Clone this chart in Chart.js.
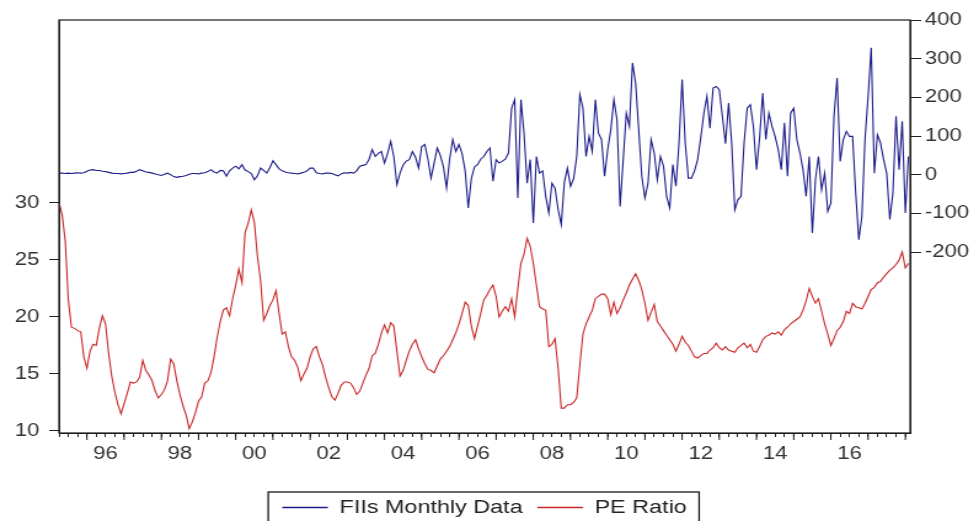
<!DOCTYPE html>
<html><head><meta charset="utf-8">
<script src="https://cdn.jsdelivr.net/npm/chart.js@4.4.1/dist/chart.umd.min.js"></script>
<style>
html,body{margin:0;padding:0;background:#fff;overflow:hidden;}
#wrap{position:absolute;left:0;top:0;width:796px;height:521px;transform:scaleX(1.2299);transform-origin:0 0;}
</style></head><body>
<div id="wrap"><canvas id="c"></canvas></div>
<script>
// first observation: 1995M04, monthly
const startYear = 1995, startMonth = 4;

const fiis = [
  4,4,3,4,3,4,5,4,5,
  9,12,13,11,11,9,8,6,4,3,3,2,
  3,4,6,6,9,13,10,7,6,4,2,0,
  -2,1,4,0,-5,-7,-5,-4,-2,1,3,3,
  2,4,5,8,13,7,4,11,10,-4,10,17,
  22,15,26,12,8,3,-13,-3,17,11,4,18,
  36,26,15,10,7,5,4,3,2,4,6,10,
  17,17,5,3,2,4,4,3,0,-3,2,5,
  4,6,4,10,22,24,26,40,65,47,55,60,
  30,55,86,47,-26,4,25,35,39,60,45,17,
  73,78,40,-9,30,69,50,20,-34,40,91,60,
  78,55,10,-86,-10,20,26,40,47,60,69,-17,
  39,30,35,40,56,172,194,-60,194,108,-22,39,
  -125,47,4,10,-56,-99,-22,-35,-90,-129,-20,17,
  -30,-10,47,207,172,47,99,60,194,108,91,-4,
  65,116,194,142,-82,39,159,125,289,237,116,-4,
  -60,-22,91,56,-13,47,22,-56,-86,26,-30,82,
  246,82,-9,-9,10,39,95,159,203,120,224,228,
  220,151,80,185,82,-91,-65,-56,82,172,181,125,
  13,95,211,91,159,125,99,65,13,134,-4,159,
  172,91,56,13,-56,47,-151,-13,47,-39,4,-95,
  -73,151,250,34,91,112,99,99,-47,-168,-108,91,
  203,328,4,103,82,39,4,-116,-47,151,13,138,
  -99,47
];

const pe = [
  30.0,29.0,26.7,21.5,19.1,19.0,18.8,18.7,16.5,
  15.5,17.0,17.6,17.5,19.0,20.1,19.4,16.8,14.8,13.4,12.3,11.5,
  12.4,13.3,14.3,14.2,14.3,14.7,16.2,15.3,14.9,14.4,13.5,12.9,
  13.2,13.6,14.4,16.3,15.9,14.4,13.2,12.2,11.4,10.2,10.8,11.6,
  12.6,13.0,14.2,14.4,15.1,16.5,18.2,19.6,20.6,20.8,20.1,21.6,
  22.8,24.2,23.0,27.4,28.2,29.4,28.3,25.3,23.2,19.7,20.3,21.0,
  21.5,22.3,20.3,18.5,18.7,17.4,16.5,16.2,15.6,14.4,15.0,15.5,
  16.5,17.2,17.4,16.5,15.8,14.7,13.8,13.0,12.7,13.3,14.0,14.3,
  14.3,14.2,13.8,13.2,13.5,14.2,14.9,15.5,16.6,16.8,17.6,18.6,
  19.3,18.6,19.5,19.2,17.0,14.8,15.3,16.2,17.0,17.6,18.0,17.2,
  16.5,15.9,15.4,15.3,15.1,15.7,16.3,16.6,17.0,17.4,18.0,18.6,
  19.4,20.3,21.3,21.0,19.2,18.1,19.2,20.3,21.5,21.9,22.4,22.8,
  21.8,20.0,20.5,20.9,20.5,21.6,20.0,22.5,24.7,25.5,26.9,26.2,
  24.7,22.8,20.9,20.7,20.6,17.4,17.6,18.1,15.5,12.0,12.0,12.3,
  12.3,12.5,12.9,15.8,18.5,19.4,20.0,20.6,21.6,21.8,22.0,22.0,
  21.6,20.2,21.3,20.3,20.8,21.5,22.1,22.8,23.3,23.8,23.2,22.4,
  21.2,19.7,20.4,21.1,19.6,19.2,18.8,18.4,18.0,17.6,17.0,17.6,
  18.3,17.8,17.5,17.0,16.5,16.4,16.6,16.8,16.8,17.1,17.3,17.7,
  17.3,17.1,17.4,17.1,17.0,16.9,17.3,17.5,17.7,17.3,17.6,17.0,
  16.9,17.4,18.0,18.3,18.4,18.6,18.5,18.7,18.4,18.9,19.1,19.4,
  19.6,19.8,20.0,20.6,21.4,22.5,21.8,21.2,21.6,20.5,19.4,18.5,
  17.5,18.1,18.8,19.1,19.6,20.5,20.3,21.2,20.9,20.8,20.7,21.2,
  21.8,22.4,22.6,23.0,23.1,23.5,23.8,24.1,24.3,24.6,25.0,25.7,
  24.3,24.7
];

const xLabelYears = [1996,1998,2000,2002,2004,2006,2008,2010,2012,2014,2016];
const xTickLabels = ['96','98','00','02','04','06','08','10','12','14','16'];
const peTicks = [10,15,20,25,30];
const fiiTicks = [-200,-100,0,100,200,300,400];
const seriesNames = ['FIIs Monthly Data','PE Ratio'];

const tOf = i => startYear + (startMonth - 1 + i) / 12;
const X_MIN = tOf(0), X_MAX = 2018.13;

Chart.defaults.font.family = '"Liberation Sans", Arial, sans-serif';

const framePlugin = {
  id: 'frame',
  afterDraw(chart) {
    const {ctx, chartArea: a, scales: {x}} = chart;
    ctx.save();
    ctx.strokeStyle = '#1a1a1a';
    ctx.lineWidth = 1.2;
    ctx.strokeRect(a.left, a.top, a.right - a.left, a.bottom - a.top);
    ctx.lineWidth = 1;
    for (let yr = Math.ceil(x.min); yr <= x.max; yr++) {
      const px = x.getPixelForValue(yr);
      ctx.beginPath(); ctx.moveTo(px, a.bottom); ctx.lineTo(px, a.bottom + 7); ctx.stroke();
    }
    const lg = chart.legend;
    const hb = lg.legendHitBoxes;
    if (hb && hb.length) {
      const l = hb[0].left - 11.5;
      const last = hb[hb.length - 1];
      const r = last.left + last.width + 10;
      const t = lg.top + 6;
      ctx.lineWidth = 1.3;
      ctx.strokeRect(l, t, r - l, 60);
    }
    ctx.restore();
  }
};

new Chart(document.getElementById('c'), {
  type: 'line',
  data: {
    datasets: [
      { label: seriesNames[0], yAxisID: 'y2',
        data: fiis.map((v, i) => ({x: tOf(i), y: v})),
        borderColor: '#1c1c88', borderWidth: 1.1, pointRadius: 0, tension: 0, fill: false },
      { label: seriesNames[1], yAxisID: 'y',
        data: pe.map((v, i) => ({x: tOf(i), y: v})),
        borderColor: '#c82828', borderWidth: 1.1, pointRadius: 0, tension: 0, fill: false }
    ]
  },
  options: {
    responsive: true, maintainAspectRatio: false, animation: false,
    layout: { padding: { top: 20, left: 0, right: 0, bottom: -6 } },
    plugins: {
      tooltip: { enabled: false },
      legend: {
        position: 'bottom', fullSize: false,
        labels: {
          usePointStyle: true, pointStyle: 'line', pointStyleWidth: 37, padding: 12,
          color: '#222', font: { size: 19 },
          generateLabels: chart => Chart.defaults.plugins.legend.labels.generateLabels(chart)
            .map(l => Object.assign(l, { lineWidth: 1.4 }))
        }
      }
    },
    scales: {
      x: {
        type: 'linear', position: 'bottom', min: X_MIN, max: X_MAX,
        afterBuildTicks: s => {
          const t = [];
          for (let v = X_MIN; v <= X_MAX + 1e-9; v += 0.25) t.push({value: Math.round(v * 4) / 4});
          s.ticks = t;
        },
        afterFit: s => { s.height = 53; },
        grid: { drawOnChartArea: false, tickLength: 4, color: '#222', tickColor: '#222' },
        border: { color: '#222' },
        ticks: {
          autoSkip: false, maxRotation: 0, minRotation: 0, padding: 6, color: '#333', font: { size: 18 },
          callback: v => {
            const k = xLabelYears.findIndex(y => Math.abs(y + 0.5 - v) < 1e-6);
            return k >= 0 ? xTickLabels[k] : '';
          }
        }
      },
      y: {
        type: 'linear', position: 'left', min: 9.82, max: 46.05,
        afterBuildTicks: s => { s.ticks = peTicks.map(v => ({value: v})); },
        afterFit: s => { s.width = 48; },
        grid: { drawOnChartArea: false, tickLength: 8, color: '#222', tickColor: '#222' },
        border: { color: '#222' },
        ticks: { padding: 8, color: '#333', font: { size: 18 } }
      },
      y2: {
        type: 'linear', position: 'right', min: -668, max: 400,
        afterBuildTicks: s => { s.ticks = fiiTicks.map(v => ({value: v})); },
        afterFit: s => { s.width = 56; },
        grid: { drawOnChartArea: false, tickLength: 9, color: '#222', tickColor: '#222' },
        border: { color: '#222' },
        ticks: { padding: 3, color: '#333', font: { size: 18 } }
      }
    }
  },
  plugins: [framePlugin]
});
</script>
</body></html>
